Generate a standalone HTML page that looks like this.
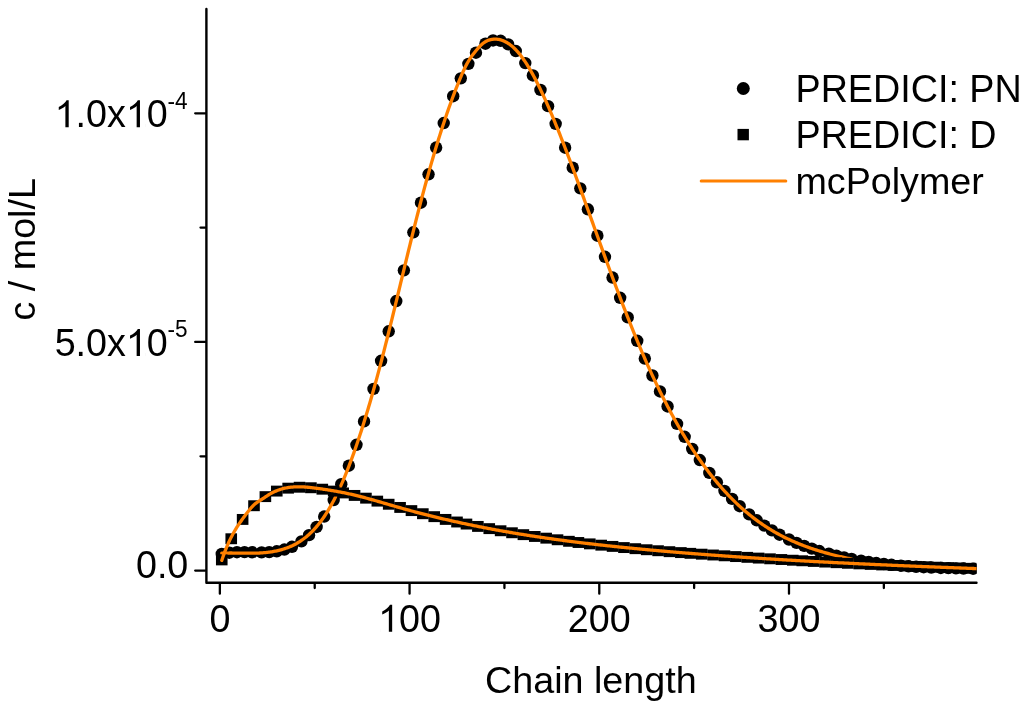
<!DOCTYPE html>
<html><head><meta charset="utf-8"><title>chart</title>
<style>html,body{margin:0;padding:0;background:#fff;overflow:hidden}svg{display:block;will-change:transform}text{font-family:"Liberation Sans",sans-serif}</style>
</head><body>
<svg width="1024" height="707" viewBox="0 0 1024 707">
<rect x="0" y="0" width="1024" height="707" fill="#fff"/>
<defs><clipPath id="c"><rect x="206" y="0" width="770.5" height="583"/></clipPath></defs>
<g clip-path="url(#c)">
<circle cx="221.76" cy="553.91" r="6.2"/>
<circle cx="229.35" cy="552.69" r="6.2"/>
<circle cx="236.93" cy="552.18" r="6.2"/>
<circle cx="244.52" cy="552.13" r="6.2"/>
<circle cx="252.11" cy="552.29" r="6.2"/>
<circle cx="261.60" cy="552.40" r="6.2"/>
<circle cx="269.18" cy="552.13" r="6.2"/>
<circle cx="276.77" cy="551.27" r="6.2"/>
<circle cx="284.36" cy="549.56" r="6.2"/>
<circle cx="291.95" cy="546.77" r="6.2"/>
<circle cx="301.44" cy="541.34" r="6.2"/>
<circle cx="309.02" cy="535.13" r="6.2"/>
<circle cx="316.61" cy="526.95" r="6.2"/>
<circle cx="324.20" cy="516.55" r="6.2"/>
<circle cx="333.69" cy="500.10" r="6.2"/>
<circle cx="341.27" cy="484.14" r="6.2"/>
<circle cx="348.86" cy="465.69" r="6.2"/>
<circle cx="356.45" cy="444.78" r="6.2"/>
<circle cx="364.04" cy="421.40" r="6.2"/>
<circle cx="373.53" cy="388.88" r="6.2"/>
<circle cx="381.11" cy="360.77" r="6.2"/>
<circle cx="388.70" cy="331.31" r="6.2"/>
<circle cx="396.29" cy="301.02" r="6.2"/>
<circle cx="403.88" cy="270.37" r="6.2"/>
<circle cx="413.36" cy="232.32" r="6.2"/>
<circle cx="420.95" cy="202.68" r="6.2"/>
<circle cx="428.54" cy="174.26" r="6.2"/>
<circle cx="436.13" cy="147.56" r="6.2"/>
<circle cx="443.72" cy="123.05" r="6.2"/>
<circle cx="453.20" cy="96.23" r="6.2"/>
<circle cx="460.79" cy="78.36" r="6.2"/>
<circle cx="468.38" cy="63.83" r="6.2"/>
<circle cx="475.97" cy="52.72" r="6.2"/>
<circle cx="485.45" cy="43.71" r="6.2"/>
<circle cx="493.04" cy="40.48" r="6.2"/>
<circle cx="500.63" cy="40.79" r="6.2"/>
<circle cx="508.22" cy="44.40" r="6.2"/>
<circle cx="515.81" cy="51.03" r="6.2"/>
<circle cx="525.29" cy="63.12" r="6.2"/>
<circle cx="532.88" cy="75.48" r="6.2"/>
<circle cx="540.47" cy="89.92" r="6.2"/>
<circle cx="548.06" cy="106.14" r="6.2"/>
<circle cx="555.65" cy="123.86" r="6.2"/>
<circle cx="565.13" cy="147.69" r="6.2"/>
<circle cx="572.72" cy="167.73" r="6.2"/>
<circle cx="580.31" cy="188.34" r="6.2"/>
<circle cx="587.90" cy="209.32" r="6.2"/>
<circle cx="597.38" cy="235.74" r="6.2"/>
<circle cx="604.97" cy="256.80" r="6.2"/>
<circle cx="612.56" cy="277.56" r="6.2"/>
<circle cx="620.15" cy="297.82" r="6.2"/>
<circle cx="627.74" cy="317.41" r="6.2"/>
<circle cx="637.22" cy="340.80" r="6.2"/>
<circle cx="644.81" cy="358.59" r="6.2"/>
<circle cx="652.40" cy="375.50" r="6.2"/>
<circle cx="659.99" cy="391.47" r="6.2"/>
<circle cx="667.58" cy="406.48" r="6.2"/>
<circle cx="677.06" cy="423.91" r="6.2"/>
<circle cx="684.65" cy="436.82" r="6.2"/>
<circle cx="692.24" cy="448.86" r="6.2"/>
<circle cx="699.83" cy="460.05" r="6.2"/>
<circle cx="709.31" cy="472.90" r="6.2"/>
<circle cx="716.90" cy="482.30" r="6.2"/>
<circle cx="724.49" cy="490.96" r="6.2"/>
<circle cx="732.08" cy="498.92" r="6.2"/>
<circle cx="739.67" cy="506.19" r="6.2"/>
<circle cx="749.15" cy="514.39" r="6.2"/>
<circle cx="756.74" cy="520.27" r="6.2"/>
<circle cx="764.33" cy="525.59" r="6.2"/>
<circle cx="771.92" cy="530.39" r="6.2"/>
<circle cx="779.50" cy="534.71" r="6.2"/>
<circle cx="788.99" cy="539.50" r="6.2"/>
<circle cx="796.58" cy="542.88" r="6.2"/>
<circle cx="804.17" cy="545.90" r="6.2"/>
<circle cx="811.76" cy="548.60" r="6.2"/>
<circle cx="819.34" cy="551.03" r="6.2"/>
<circle cx="828.83" cy="553.73" r="6.2"/>
<circle cx="836.42" cy="555.66" r="6.2"/>
<circle cx="844.01" cy="557.41" r="6.2"/>
<circle cx="851.59" cy="558.99" r="6.2"/>
<circle cx="861.08" cy="560.73" r="6.2"/>
<circle cx="868.67" cy="561.95" r="6.2"/>
<circle cx="876.26" cy="563.04" r="6.2"/>
<circle cx="883.85" cy="563.99" r="6.2"/>
<circle cx="891.43" cy="564.82" r="6.2"/>
<circle cx="900.92" cy="565.70" r="6.2"/>
<circle cx="908.51" cy="566.29" r="6.2"/>
<circle cx="916.10" cy="566.79" r="6.2"/>
<circle cx="923.68" cy="567.21" r="6.2"/>
<circle cx="931.27" cy="567.57" r="6.2"/>
<circle cx="940.76" cy="567.93" r="6.2"/>
<circle cx="948.35" cy="568.16" r="6.2"/>
<circle cx="955.93" cy="568.36" r="6.2"/>
<circle cx="963.52" cy="568.53" r="6.2"/>
<circle cx="973.01" cy="568.71" r="6.2"/>
<circle cx="980.60" cy="568.86" r="6.2"/>
<path d="M221.76,553.19 L222.76,553.15 L223.76,553.12 L224.76,553.09 L225.76,553.07 L226.76,553.05 L227.76,553.04 L228.76,553.03 L229.76,553.02 L230.76,553.02 L231.76,553.02 L232.76,553.03 L233.76,553.03 L234.76,553.04 L235.76,553.05 L236.76,553.07 L237.76,553.08 L238.76,553.10 L239.76,553.11 L240.76,553.13 L241.76,553.14 L242.76,553.16 L243.76,553.17 L244.76,553.18 L245.76,553.19 L246.76,553.20 L247.76,553.21 L248.76,553.21 L249.76,553.21 L250.76,553.21 L251.76,553.21 L252.76,553.20 L253.76,553.18 L254.76,553.16 L255.76,553.14 L256.76,553.11 L257.76,553.07 L258.76,553.03 L259.76,552.98 L260.76,552.93 L261.76,552.86 L262.76,552.79 L263.76,552.72 L264.76,552.63 L265.76,552.54 L266.76,552.43 L267.76,552.32 L268.76,552.20 L269.76,552.06 L270.76,551.92 L271.76,551.77 L272.76,551.60 L273.76,551.43 L274.76,551.24 L275.76,551.04 L276.76,550.83 L277.76,550.61 L278.76,550.37 L279.76,550.12 L280.76,549.85 L281.76,549.57 L282.76,549.28 L283.76,548.97 L284.76,548.65 L285.76,548.31 L286.76,547.95 L287.76,547.58 L288.76,547.19 L289.76,546.79 L290.76,546.36 L291.76,545.91 L292.76,545.45 L293.76,544.96 L294.76,544.45 L295.76,543.92 L296.76,543.37 L297.76,542.79 L298.76,542.19 L299.76,541.56 L300.76,540.91 L301.76,540.23 L302.76,539.52 L303.76,538.79 L304.76,538.03 L305.76,537.24 L306.76,536.41 L307.76,535.56 L308.76,534.68 L309.76,533.76 L310.76,532.82 L311.76,531.83 L312.76,530.82 L313.76,529.77 L314.76,528.68 L315.76,527.56 L316.76,526.40 L317.76,525.21 L318.76,523.98 L319.76,522.70 L320.76,521.39 L321.76,520.04 L322.76,518.65 L323.76,517.21 L324.76,515.73 L325.76,514.21 L326.76,512.65 L327.76,511.04 L328.76,509.39 L329.76,507.69 L330.76,505.94 L331.76,504.15 L332.76,502.31 L333.76,500.42 L334.76,498.49 L335.76,496.50 L336.76,494.47 L337.76,492.40 L338.76,490.27 L339.76,488.10 L340.76,485.89 L341.76,483.63 L342.76,481.32 L343.76,478.97 L344.76,476.58 L345.76,474.14 L346.76,471.66 L347.76,469.13 L348.76,466.56 L349.76,463.95 L350.76,461.30 L351.76,458.60 L352.76,455.86 L353.76,453.08 L354.76,450.26 L355.76,447.39 L356.76,444.49 L357.76,441.55 L358.76,438.56 L359.76,435.54 L360.76,432.47 L361.76,429.37 L362.76,426.23 L363.76,423.05 L364.76,419.83 L365.76,416.57 L366.76,413.28 L367.76,409.94 L368.76,406.57 L369.76,403.17 L370.76,399.73 L371.76,396.25 L372.76,392.73 L373.76,389.18 L374.76,385.60 L375.76,381.98 L376.76,378.32 L377.76,374.63 L378.76,370.91 L379.76,367.15 L380.76,363.36 L381.76,359.54 L382.76,355.68 L383.76,351.80 L384.76,347.88 L385.76,343.94 L386.76,339.98 L387.76,335.98 L388.76,331.97 L389.76,327.94 L390.76,323.89 L391.76,319.82 L392.76,315.74 L393.76,311.64 L394.76,307.53 L395.76,303.41 L396.76,299.28 L397.76,295.14 L398.76,291.00 L399.76,286.86 L400.76,282.71 L401.76,278.56 L402.76,274.42 L403.76,270.27 L404.76,266.13 L405.76,262.00 L406.76,257.88 L407.76,253.76 L408.76,249.66 L409.76,245.57 L410.76,241.49 L411.76,237.43 L412.76,233.39 L413.76,229.37 L414.76,225.36 L415.76,221.39 L416.76,217.43 L417.76,213.50 L418.76,209.60 L419.76,205.73 L420.76,201.90 L421.76,198.09 L422.76,194.32 L423.76,190.58 L424.76,186.87 L425.76,183.20 L426.76,179.56 L427.76,175.95 L428.76,172.38 L429.76,168.84 L430.76,165.34 L431.76,161.87 L432.76,158.43 L433.76,155.03 L434.76,151.67 L435.76,148.34 L436.76,145.04 L437.76,141.78 L438.76,138.56 L439.76,135.37 L440.76,132.22 L441.76,129.10 L442.76,126.02 L443.76,122.97 L444.76,119.96 L445.76,116.99 L446.76,114.05 L447.76,111.16 L448.76,108.30 L449.76,105.47 L450.76,102.69 L451.76,99.94 L452.76,97.24 L453.76,94.57 L454.76,91.95 L455.76,89.36 L456.76,86.82 L457.76,84.31 L458.76,81.85 L459.76,79.43 L460.76,77.05 L461.76,74.72 L462.76,72.44 L463.76,70.23 L464.76,68.10 L465.76,66.06 L466.76,64.13 L467.76,62.32 L468.76,60.63 L469.76,59.04 L470.76,57.55 L471.76,56.13 L472.76,54.78 L473.76,53.48 L474.76,52.23 L475.76,51.01 L476.76,49.81 L477.76,48.63 L478.76,47.47 L479.76,46.37 L480.76,45.35 L481.76,44.41 L482.76,43.56 L483.76,42.80 L484.76,42.12 L485.76,41.52 L486.76,40.99 L487.76,40.54 L488.76,40.16 L489.76,39.84 L490.76,39.59 L491.76,39.40 L492.76,39.26 L493.76,39.17 L494.76,39.14 L495.76,39.15 L496.76,39.21 L497.76,39.32 L498.76,39.48 L499.76,39.68 L500.76,39.94 L501.76,40.24 L502.76,40.59 L503.76,40.99 L504.76,41.45 L505.76,41.95 L506.76,42.50 L507.76,43.10 L508.76,43.75 L509.76,44.45 L510.76,45.20 L511.76,46.01 L512.76,46.86 L513.76,47.77 L514.76,48.73 L515.76,49.74 L516.76,50.80 L517.76,51.92 L518.76,53.09 L519.76,54.31 L520.76,55.58 L521.76,56.90 L522.76,58.27 L523.76,59.68 L524.76,61.14 L525.76,62.65 L526.76,64.21 L527.76,65.80 L528.76,67.44 L529.76,69.12 L530.76,70.84 L531.76,72.61 L532.76,74.41 L533.76,76.24 L534.76,78.12 L535.76,80.03 L536.76,81.98 L537.76,83.96 L538.76,85.97 L539.76,88.01 L540.76,90.09 L541.76,92.19 L542.76,94.33 L543.76,96.49 L544.76,98.68 L545.76,100.90 L546.76,103.14 L547.76,105.40 L548.76,107.69 L549.76,110.00 L550.76,112.33 L551.76,114.69 L552.76,117.06 L553.76,119.45 L554.76,121.87 L555.76,124.30 L556.76,126.76 L557.76,129.23 L558.76,131.72 L559.76,134.22 L560.76,136.75 L561.76,139.29 L562.76,141.84 L563.76,144.41 L564.76,147.00 L565.76,149.60 L566.76,152.21 L567.76,154.83 L568.76,157.47 L569.76,160.12 L570.76,162.78 L571.76,165.45 L572.76,168.14 L573.76,170.83 L574.76,173.53 L575.76,176.24 L576.76,178.96 L577.76,181.69 L578.76,184.42 L579.76,187.16 L580.76,189.91 L581.76,192.66 L582.76,195.42 L583.76,198.18 L584.76,200.95 L585.76,203.72 L586.76,206.49 L587.76,209.27 L588.76,212.04 L589.76,214.82 L590.76,217.60 L591.76,220.38 L592.76,223.16 L593.76,225.94 L594.76,228.72 L595.76,231.49 L596.76,234.27 L597.76,237.04 L598.76,239.81 L599.76,242.57 L600.76,245.33 L601.76,248.09 L602.76,250.84 L603.76,253.59 L604.76,256.33 L605.76,259.07 L606.76,261.80 L607.76,264.53 L608.76,267.25 L609.76,269.96 L610.76,272.67 L611.76,275.37 L612.76,278.06 L613.76,280.75 L614.76,283.42 L615.76,286.09 L616.76,288.75 L617.76,291.40 L618.76,294.04 L619.76,296.67 L620.76,299.30 L621.76,301.91 L622.76,304.51 L623.76,307.10 L624.76,309.68 L625.76,312.25 L626.76,314.81 L627.76,317.35 L628.76,319.89 L629.76,322.41 L630.76,324.91 L631.76,327.41 L632.76,329.89 L633.76,332.36 L634.76,334.81 L635.76,337.25 L636.76,339.68 L637.76,342.09 L638.76,344.48 L639.76,346.86 L640.76,349.22 L641.76,351.57 L642.76,353.90 L643.76,356.22 L644.76,358.51 L645.76,360.79 L646.76,363.06 L647.76,365.30 L648.76,367.53 L649.76,369.74 L650.76,371.94 L651.76,374.11 L652.76,376.27 L653.76,378.42 L654.76,380.54 L655.76,382.65 L656.76,384.75 L657.76,386.83 L658.76,388.89 L659.76,390.93 L660.76,392.96 L661.76,394.97 L662.76,396.96 L663.76,398.94 L664.76,400.91 L665.76,402.85 L666.76,404.78 L667.76,406.70 L668.76,408.60 L669.76,410.48 L670.76,412.35 L671.76,414.20 L672.76,416.03 L673.76,417.85 L674.76,419.66 L675.76,421.45 L676.76,423.22 L677.76,424.98 L678.76,426.72 L679.76,428.45 L680.76,430.16 L681.76,431.86 L682.76,433.54 L683.76,435.21 L684.76,436.86 L685.76,438.49 L686.76,440.12 L687.76,441.72 L688.76,443.32 L689.76,444.89 L690.76,446.46 L691.76,448.01 L692.76,449.54 L693.76,451.06 L694.76,452.56 L695.76,454.06 L696.76,455.53 L697.76,457.00 L698.76,458.44 L699.76,459.88 L700.76,461.30 L701.76,462.70 L702.76,464.10 L703.76,465.48 L704.76,466.84 L705.76,468.19 L706.76,469.53 L707.76,470.85 L708.76,472.16 L709.76,473.46 L710.76,474.74 L711.76,476.01 L712.76,477.27 L713.76,478.51 L714.76,479.74 L715.76,480.96 L716.76,482.16 L717.76,483.35 L718.76,484.53 L719.76,485.69 L720.76,486.85 L721.76,487.99 L722.76,489.11 L723.76,490.23 L724.76,491.33 L725.76,492.42 L726.76,493.49 L727.76,494.56 L728.76,495.61 L729.76,496.65 L730.76,497.67 L731.76,498.69 L732.76,499.69 L733.76,500.68 L734.76,501.66 L735.76,502.62 L736.76,503.58 L737.76,504.52 L738.76,505.45 L739.76,506.37 L740.76,507.28 L741.76,508.18 L742.76,509.06 L743.76,509.94 L744.76,510.80 L745.76,511.66 L746.76,512.50 L747.76,513.33 L748.76,514.15 L749.76,514.96 L750.76,515.76 L751.76,516.55 L752.76,517.33 L753.76,518.10 L754.76,518.86 L755.76,519.61 L756.76,520.34 L757.76,521.07 L758.76,521.79 L759.76,522.50 L760.76,523.20 L761.76,523.90 L762.76,524.58 L763.76,525.25 L764.76,525.91 L765.76,526.57 L766.76,527.21 L767.76,527.85 L768.76,528.48 L769.76,529.10 L770.76,529.71 L771.76,530.31 L772.76,530.90 L773.76,531.49 L774.76,532.06 L775.76,532.63 L776.76,533.20 L777.76,533.75 L778.76,534.29 L779.76,534.83 L780.76,535.36 L781.76,535.88 L782.76,536.40 L783.76,536.91 L784.76,537.41 L785.76,537.90 L786.76,538.39 L787.76,538.87 L788.76,539.34 L789.76,539.81 L790.76,540.26 L791.76,540.72 L792.76,541.16 L793.76,541.60 L794.76,542.04 L795.76,542.46 L796.76,542.88 L797.76,543.30 L798.76,543.71 L799.76,544.11 L800.76,544.51 L801.76,544.90 L802.76,545.29 L803.76,545.67 L804.76,546.04 L805.76,546.42 L806.76,546.78 L807.76,547.14 L808.76,547.50 L809.76,547.85 L810.76,548.19 L811.76,548.53 L812.76,548.87 L813.76,549.20 L814.76,549.53 L815.76,549.85 L816.76,550.17 L817.76,550.48 L818.76,550.79 L819.76,551.10 L820.76,551.40 L821.76,551.70 L822.76,552.00 L823.76,552.29 L824.76,552.58 L825.76,552.86 L826.76,553.14 L827.76,553.42 L828.76,553.70 L829.76,553.97 L830.76,554.23 L831.76,554.50 L832.76,554.75 L833.76,555.01 L834.76,555.26 L835.76,555.51 L836.76,555.76 L837.76,556.00 L838.76,556.24 L839.76,556.48 L840.76,556.71 L841.76,556.94 L842.76,557.17 L843.76,557.39 L844.76,557.61 L845.76,557.83 L846.76,558.04 L847.76,558.25 L848.76,558.46 L849.76,558.67 L850.76,558.87 L851.76,559.07 L853,560.5 L854.00,563.52 L856.00,563.61 L858.00,563.71 L860.00,563.80 L862.00,563.90 L864.00,563.99 L866.00,564.08 L868.00,564.17 L870.00,564.26 L872.00,564.36 L874.00,564.45 L876.00,564.54 L878.00,564.63 L880.00,564.72 L882.00,564.80 L884.00,564.89 L886.00,564.98 L888.00,565.07 L890.00,565.16 L892.00,565.24 L894.00,565.33 L896.00,565.41 L898.00,565.50 L900.00,565.59 L902.00,565.67 L904.00,565.75 L906.00,565.84 L908.00,565.92 L910.00,566.01 L912.00,566.09 L914.00,566.17 L916.00,566.25 L918.00,566.34 L920.00,566.42 L922.00,566.50 L924.00,566.58 L926.00,566.66 L928.00,566.74 L930.00,566.82 L932.00,566.90 L934.00,566.98 L936.00,567.06 L938.00,567.14 L940.00,567.22 L942.00,567.30 L944.00,567.38 L946.00,567.45 L948.00,567.53 L950.00,567.61 L952.00,567.69 L954.00,567.76 L956.00,567.84 L958.00,567.92 L960.00,567.99 L962.00,568.07 L964.00,568.15 L966.00,568.22 L968.00,568.30 L970.00,568.38 L972.00,568.45 L974.00,568.53 L976.00,568.60" fill="none" stroke="#ff8000" stroke-width="3.3" stroke-linejoin="round" stroke-linecap="round"/>
<rect x="215.96" y="554.46" width="11.6" height="10.9"/>
<rect x="225.44" y="533.31" width="11.6" height="10.9"/>
<rect x="236.83" y="513.98" width="11.6" height="10.9"/>
<rect x="248.21" y="500.28" width="11.6" height="10.9"/>
<rect x="259.59" y="491.18" width="11.6" height="10.9"/>
<rect x="270.97" y="485.64" width="11.6" height="10.9"/>
<rect x="282.36" y="482.71" width="11.6" height="10.9"/>
<rect x="293.74" y="481.78" width="11.6" height="10.9"/>
<rect x="305.12" y="482.30" width="11.6" height="10.9"/>
<rect x="316.50" y="483.74" width="11.6" height="10.9"/>
<rect x="327.89" y="485.64" width="11.6" height="10.9"/>
<rect x="337.37" y="487.49" width="11.6" height="10.9"/>
<rect x="348.75" y="489.97" width="11.6" height="10.9"/>
<rect x="360.14" y="492.71" width="11.6" height="10.9"/>
<rect x="371.52" y="495.67" width="11.6" height="10.9"/>
<rect x="382.90" y="498.79" width="11.6" height="10.9"/>
<rect x="394.28" y="501.98" width="11.6" height="10.9"/>
<rect x="405.67" y="505.16" width="11.6" height="10.9"/>
<rect x="417.05" y="508.27" width="11.6" height="10.9"/>
<rect x="428.43" y="511.21" width="11.6" height="10.9"/>
<rect x="439.81" y="513.96" width="11.6" height="10.9"/>
<rect x="451.20" y="516.55" width="11.6" height="10.9"/>
<rect x="460.68" y="518.61" width="11.6" height="10.9"/>
<rect x="472.07" y="520.96" width="11.6" height="10.9"/>
<rect x="483.45" y="523.19" width="11.6" height="10.9"/>
<rect x="494.83" y="525.31" width="11.6" height="10.9"/>
<rect x="506.21" y="527.31" width="11.6" height="10.9"/>
<rect x="517.60" y="529.21" width="11.6" height="10.9"/>
<rect x="528.98" y="531.01" width="11.6" height="10.9"/>
<rect x="540.36" y="532.71" width="11.6" height="10.9"/>
<rect x="551.74" y="534.32" width="11.6" height="10.9"/>
<rect x="563.13" y="535.84" width="11.6" height="10.9"/>
<rect x="572.61" y="537.05" width="11.6" height="10.9"/>
<rect x="583.99" y="538.42" width="11.6" height="10.9"/>
<rect x="595.38" y="539.72" width="11.6" height="10.9"/>
<rect x="606.76" y="540.95" width="11.6" height="10.9"/>
<rect x="618.14" y="542.12" width="11.6" height="10.9"/>
<rect x="629.52" y="543.23" width="11.6" height="10.9"/>
<rect x="640.91" y="544.28" width="11.6" height="10.9"/>
<rect x="652.29" y="545.28" width="11.6" height="10.9"/>
<rect x="663.67" y="546.23" width="11.6" height="10.9"/>
<rect x="675.06" y="547.15" width="11.6" height="10.9"/>
<rect x="684.54" y="547.88" width="11.6" height="10.9"/>
<rect x="695.92" y="548.73" width="11.6" height="10.9"/>
<rect x="707.31" y="549.55" width="11.6" height="10.9"/>
<rect x="718.69" y="550.35" width="11.6" height="10.9"/>
<rect x="730.07" y="551.13" width="11.6" height="10.9"/>
<rect x="741.45" y="551.89" width="11.6" height="10.9"/>
<rect x="752.84" y="552.64" width="11.6" height="10.9"/>
<rect x="764.22" y="553.36" width="11.6" height="10.9"/>
<rect x="775.60" y="554.07" width="11.6" height="10.9"/>
<rect x="786.98" y="554.77" width="11.6" height="10.9"/>
<rect x="796.47" y="555.33" width="11.6" height="10.9"/>
<rect x="807.85" y="555.98" width="11.6" height="10.9"/>
<rect x="819.23" y="556.62" width="11.6" height="10.9"/>
<rect x="830.62" y="557.24" width="11.6" height="10.9"/>
<rect x="842.00" y="557.83" width="11.6" height="10.9"/>
<rect x="853.38" y="558.41" width="11.6" height="10.9"/>
<rect x="864.77" y="558.96" width="11.6" height="10.9"/>
<rect x="876.15" y="559.49" width="11.6" height="10.9"/>
<rect x="887.53" y="560.00" width="11.6" height="10.9"/>
<rect x="898.91" y="560.49" width="11.6" height="10.9"/>
<rect x="910.30" y="560.96" width="11.6" height="10.9"/>
<rect x="919.78" y="561.33" width="11.6" height="10.9"/>
<rect x="931.16" y="561.75" width="11.6" height="10.9"/>
<rect x="942.55" y="562.14" width="11.6" height="10.9"/>
<rect x="953.93" y="562.51" width="11.6" height="10.9"/>
<rect x="965.31" y="562.86" width="11.6" height="10.9"/>
<path d="M221.76,560.42 L222.76,557.44 L223.76,554.60 L224.76,551.90 L225.76,549.32 L226.76,546.87 L227.76,544.53 L228.76,542.30 L229.76,540.17 L230.76,538.13 L231.76,536.18 L232.76,534.31 L233.76,532.50 L234.76,530.76 L235.76,529.09 L236.76,527.47 L237.76,525.90 L238.76,524.37 L239.76,522.89 L240.76,521.45 L241.76,520.04 L242.76,518.65 L243.76,517.29 L244.76,515.94 L245.76,514.61 L246.76,513.28 L247.76,511.98 L248.76,510.69 L249.76,509.45 L250.76,508.25 L251.76,507.12 L252.76,506.04 L253.76,505.05 L254.76,504.14 L255.76,503.33 L256.76,502.60 L257.76,501.92 L258.76,501.28 L259.76,500.65 L260.76,500.01 L261.76,499.35 L262.76,498.68 L263.76,498.01 L264.76,497.34 L265.76,496.67 L266.76,496.01 L267.76,495.37 L268.76,494.75 L269.76,494.15 L270.76,493.58 L271.76,493.03 L272.76,492.51 L273.76,492.02 L274.76,491.56 L275.76,491.12 L276.76,490.71 L277.76,490.32 L278.76,489.95 L279.76,489.61 L280.76,489.29 L281.76,488.99 L282.76,488.71 L283.76,488.46 L284.76,488.22 L285.76,488.01 L286.76,487.82 L287.76,487.64 L288.76,487.48 L289.76,487.34 L290.76,487.22 L291.76,487.11 L292.76,487.02 L293.76,486.95 L294.76,486.89 L295.76,486.84 L296.76,486.81 L297.76,486.80 L298.76,486.79 L299.76,486.80 L300.76,486.82 L301.76,486.85 L302.76,486.89 L303.76,486.94 L304.76,487.00 L305.76,487.07 L306.76,487.15 L307.76,487.24 L308.76,487.33 L309.76,487.44 L310.76,487.54 L311.76,487.66 L312.76,487.77 L313.76,487.90 L314.76,488.02 L315.76,488.15 L316.76,488.29 L317.76,488.42 L318.76,488.56 L319.76,488.70 L320.76,488.84 L321.76,488.99 L322.76,489.13 L323.76,489.28 L324.76,489.43 L325.76,489.58 L326.76,489.73 L327.76,489.89 L328.76,490.04 L329.76,490.20 L330.76,490.36 L331.76,490.53 L332.76,490.70 L333.76,490.87 L334.76,491.04 L335.76,491.21 L336.76,491.39 L337.76,491.57 L338.76,491.76 L339.76,491.95 L340.76,492.14 L341.76,492.33 L342.76,492.53 L343.76,492.73 L344.76,492.93 L345.76,493.14 L346.76,493.35 L347.76,493.56 L348.76,493.78 L349.76,494.00 L350.76,494.23 L351.76,494.46 L352.76,494.69 L353.76,494.93 L354.76,495.17 L355.76,495.41 L356.76,495.65 L357.76,495.90 L358.76,496.15 L359.76,496.41 L360.76,496.66 L361.76,496.92 L362.76,497.18 L363.76,497.45 L364.76,497.71 L365.76,497.98 L366.76,498.25 L367.76,498.52 L368.76,498.79 L369.76,499.07 L370.76,499.35 L371.76,499.63 L372.76,499.91 L373.76,500.19 L374.76,500.47 L375.76,500.75 L376.76,501.04 L377.76,501.32 L378.76,501.61 L379.76,501.90 L380.76,502.19 L381.76,502.48 L382.76,502.77 L383.76,503.06 L384.76,503.35 L385.76,503.64 L386.76,503.93 L387.76,504.22 L388.76,504.51 L389.76,504.80 L390.76,505.09 L391.76,505.38 L392.76,505.67 L393.76,505.96 L394.76,506.25 L395.76,506.54 L396.76,506.82 L397.76,507.11 L398.76,507.39 L399.76,507.68 L400.76,507.96 L401.76,508.24 L402.76,508.52 L403.76,508.80 L404.76,509.08 L405.76,509.36 L406.76,509.63 L407.76,509.91 L408.76,510.18 L409.76,510.45 L410.76,510.72 L411.76,510.99 L412.76,511.26 L413.76,511.53 L414.76,511.80 L415.76,512.06 L416.76,512.33 L417.76,512.59 L418.76,512.85 L419.76,513.11 L420.76,513.37 L421.76,513.63 L422.76,513.88 L423.76,514.14 L424.76,514.40 L425.76,514.65 L426.76,514.90 L427.76,515.15 L428.76,515.40 L429.76,515.65 L430.76,515.90 L431.76,516.15 L432.76,516.40 L433.76,516.64 L434.76,516.88 L435.76,517.13 L436.76,517.37 L437.76,517.61 L438.76,517.85 L439.76,518.09 L440.76,518.32 L441.76,518.56 L442.76,518.80 L443.76,519.03 L444.76,519.26 L445.76,519.50 L446.76,519.73 L447.76,519.96 L448.76,520.19 L449.76,520.41 L450.76,520.64 L451.76,520.87 L452.76,521.09 L453.76,521.32 L454.76,521.54 L455.76,521.76 L456.76,521.98 L457.76,522.20 L458.76,522.42 L459.76,522.64 L460.76,522.85 L461.76,523.07 L462.76,523.28 L463.76,523.50 L464.76,523.71 L465.76,523.92 L466.76,524.13 L467.76,524.34 L468.76,524.55 L469.76,524.76 L470.76,524.97 L471.76,525.17 L472.76,525.38 L473.76,525.58 L474.76,525.79 L475.76,525.99 L476.76,526.19 L477.76,526.39 L478.76,526.59 L479.76,526.79 L480.76,526.99 L481.76,527.18 L482.76,527.38 L483.76,527.57 L484.76,527.77 L485.76,527.96 L486.76,528.15 L487.76,528.34 L488.76,528.53 L489.76,528.72 L490.76,528.91 L491.76,529.10 L492.76,529.29 L493.76,529.47 L494.76,529.66 L495.76,529.84 L496.76,530.02 L497.76,530.21 L498.76,530.39 L499.76,530.57 L500.76,530.75 L501.76,530.93 L502.76,531.10 L503.76,531.28 L504.76,531.46 L505.76,531.63 L506.76,531.81 L507.76,531.98 L508.76,532.16 L509.76,532.33 L510.76,532.50 L511.76,532.67 L512.76,532.84 L513.76,533.01 L514.76,533.18 L515.76,533.34 L516.76,533.51 L517.76,533.68 L518.76,533.84 L519.76,534.01 L520.76,534.17 L521.76,534.33 L522.76,534.49 L523.76,534.65 L524.76,534.81 L525.76,534.97 L526.76,535.13 L527.76,535.29 L528.76,535.45 L529.76,535.60 L530.76,535.76 L531.76,535.91 L532.76,536.07 L533.76,536.22 L534.76,536.38 L535.76,536.53 L536.76,536.68 L537.76,536.83 L538.76,536.98 L539.76,537.13 L540.76,537.28 L541.76,537.42 L542.76,537.57 L543.76,537.72 L544.76,537.86 L545.76,538.01 L546.76,538.15 L547.76,538.30 L548.76,538.44 L549.76,538.58 L550.76,538.72 L551.76,538.86 L552.76,539.00 L553.76,539.14 L554.76,539.28 L555.76,539.42 L556.76,539.56 L557.76,539.69 L558.76,539.83 L559.76,539.96 L560.76,540.10 L561.76,540.23 L562.76,540.37 L563.76,540.50 L564.76,540.63 L565.76,540.76 L566.76,540.89 L567.76,541.02 L568.76,541.15 L569.76,541.28 L570.76,541.41 L571.76,541.54 L572.76,541.67 L573.76,541.79 L574.76,541.92 L575.76,542.05 L576.76,542.17 L577.76,542.29 L578.76,542.42 L579.76,542.54 L580.76,542.66 L581.76,542.79 L582.76,542.91 L583.76,543.03 L584.76,543.15 L585.76,543.27 L586.76,543.39 L587.76,543.51 L588.76,543.62 L589.76,543.74 L590.76,543.86 L591.76,543.98 L592.76,544.09 L593.76,544.21 L594.76,544.32 L595.76,544.44 L596.76,544.55 L597.76,544.66 L598.76,544.78 L599.76,544.89 L600.76,545.00 L601.76,545.11 L602.76,545.22 L603.76,545.33 L604.76,545.44 L605.76,545.55 L606.76,545.66 L607.76,545.77 L608.76,545.88 L609.76,545.98 L610.76,546.09 L611.76,546.20 L612.76,546.30 L613.76,546.41 L614.76,546.51 L615.76,546.62 L616.76,546.72 L617.76,546.83 L618.76,546.93 L619.76,547.03 L620.76,547.14 L621.76,547.24 L622.76,547.34 L623.76,547.44 L624.76,547.54 L625.76,547.64 L626.76,547.74 L627.76,547.84 L628.76,547.94 L629.76,548.04 L630.76,548.14 L631.76,548.23 L632.76,548.33 L633.76,548.43 L634.76,548.53 L635.76,548.62 L636.76,548.72 L637.76,548.81 L638.76,548.91 L639.76,549.00 L640.76,549.10 L641.76,549.19 L642.76,549.29 L643.76,549.38 L644.76,549.47 L645.76,549.56 L646.76,549.66 L647.76,549.75 L648.76,549.84 L649.76,549.93 L650.76,550.02 L651.76,550.11 L652.76,550.20 L653.76,550.29 L654.76,550.38 L655.76,550.47 L656.76,550.56 L657.76,550.65 L658.76,550.74 L659.76,550.83 L660.76,550.92 L661.76,551.00 L662.76,551.09 L663.76,551.18 L664.76,551.26 L665.76,551.35 L666.76,551.44 L667.76,551.52 L668.76,551.61 L669.76,551.69 L670.76,551.78 L671.76,551.86 L672.76,551.95 L673.76,552.03 L674.76,552.12 L675.76,552.20 L676.76,552.28 L677.76,552.37 L678.76,552.45 L679.76,552.53 L680.76,552.61 L681.76,552.70 L682.76,552.78 L683.76,552.86 L684.76,552.94 L685.76,553.02 L686.76,553.10 L687.76,553.18 L688.76,553.26 L689.76,553.34 L690.76,553.42 L691.76,553.50 L692.76,553.58 L693.76,553.66 L694.76,553.74 L695.76,553.82 L696.76,553.89 L697.76,553.97 L698.76,554.05 L699.76,554.13 L700.76,554.20 L701.76,554.28 L702.76,554.36 L703.76,554.43 L704.76,554.51 L705.76,554.59 L706.76,554.66 L707.76,554.74 L708.76,554.81 L709.76,554.89 L710.76,554.96 L711.76,555.04 L712.76,555.11 L713.76,555.18 L714.76,555.26 L715.76,555.33 L716.76,555.40 L717.76,555.48 L718.76,555.55 L719.76,555.62 L720.76,555.70 L721.76,555.77 L722.76,555.84 L723.76,555.91 L724.76,555.98 L725.76,556.05 L726.76,556.12 L727.76,556.19 L728.76,556.26 L729.76,556.33 L730.76,556.40 L731.76,556.47 L732.76,556.54 L733.76,556.61 L734.76,556.68 L735.76,556.75 L736.76,556.82 L737.76,556.89 L738.76,556.96 L739.76,557.02 L740.76,557.09 L741.76,557.16 L742.76,557.23 L743.76,557.29 L744.76,557.36 L745.76,557.43 L746.76,557.49 L747.76,557.56 L748.76,557.62 L749.76,557.69 L750.76,557.76 L751.76,557.82 L752.76,557.89 L753.76,557.95 L754.76,558.02 L755.76,558.08 L756.76,558.14 L757.76,558.21 L758.76,558.27 L759.76,558.34 L760.76,558.40 L761.76,558.46 L762.76,558.53 L763.76,558.59 L764.76,558.65 L765.76,558.71 L766.76,558.78 L767.76,558.84 L768.76,558.90 L769.76,558.96 L770.76,559.02 L771.76,559.08 L772.76,559.14 L773.76,559.20 L774.76,559.27 L775.76,559.33 L776.76,559.39 L777.76,559.45 L778.76,559.51 L779.76,559.57 L780.76,559.63 L781.76,559.68 L782.76,559.74 L783.76,559.80 L784.76,559.86 L785.76,559.92 L786.76,559.98 L787.76,560.04 L788.76,560.09 L789.76,560.15 L790.76,560.21 L791.76,560.27 L792.76,560.32 L793.76,560.38 L794.76,560.44 L795.76,560.49 L796.76,560.55 L797.76,560.61 L798.76,560.66 L799.76,560.72 L800.76,560.78 L801.76,560.83 L802.76,560.89 L803.76,560.94 L804.76,561.00 L805.76,561.05 L806.76,561.11 L807.76,561.16 L808.76,561.22 L809.76,561.27 L810.76,561.32 L811.76,561.38 L812.76,561.43 L813.76,561.49 L814.76,561.54 L815.76,561.59 L816.76,561.65 L817.76,561.70 L818.76,561.75 L819.76,561.80 L820.76,561.86 L821.76,561.91 L822.76,561.96 L823.76,562.01 L824.76,562.07 L825.76,562.12 L826.76,562.17 L827.76,562.22 L828.76,562.27 L829.76,562.32 L830.76,562.37 L831.76,562.42 L832.76,562.48 L833.76,562.53 L834.76,562.58 L835.76,562.63 L836.76,562.68 L837.76,562.73 L838.76,562.78 L839.76,562.83 L840.76,562.88 L841.76,562.92 L842.76,562.97 L843.76,563.02 L844.76,563.07 L845.76,563.12 L846.76,563.17 L847.76,563.22 L848.76,563.27 L849.76,563.32 L850.76,563.36 L851.76,563.41 L852.76,563.46 L853.76,563.51 L854.76,563.55 L855.76,563.60 L856.76,563.65 L857.76,563.70 L858.76,563.74 L859.76,563.79 L860.76,563.84 L861.76,563.88 L862.76,563.93 L863.76,563.98 L864.76,564.02 L865.76,564.07 L866.76,564.12 L867.76,564.16 L868.76,564.21 L869.76,564.25 L870.76,564.30 L871.76,564.34 L872.76,564.39 L873.76,564.44 L874.76,564.48 L875.76,564.53 L876.76,564.57 L877.76,564.62 L878.76,564.66 L879.76,564.71 L880.76,564.75 L881.76,564.79 L882.76,564.84 L883.76,564.88 L884.76,564.93 L885.76,564.97 L886.76,565.01 L887.76,565.06 L888.76,565.10 L889.76,565.15 L890.76,565.19 L891.76,565.23 L892.76,565.28 L893.76,565.32 L894.76,565.36 L895.76,565.40 L896.76,565.45 L897.76,565.49 L898.76,565.53 L899.76,565.58 L900.76,565.62 L901.76,565.66 L902.76,565.70 L903.76,565.74 L904.76,565.79 L905.76,565.83 L906.76,565.87 L907.76,565.91 L908.76,565.95 L909.76,566.00 L910.76,566.04 L911.76,566.08 L912.76,566.12 L913.76,566.16 L914.76,566.20 L915.76,566.24 L916.76,566.29 L917.76,566.33 L918.76,566.37 L919.76,566.41 L920.76,566.45 L921.76,566.49 L922.76,566.53 L923.76,566.57 L924.76,566.61 L925.76,566.65 L926.76,566.69 L927.76,566.73 L928.76,566.77 L929.76,566.81 L930.76,566.85 L931.76,566.89 L932.76,566.93 L933.76,566.97 L934.76,567.01 L935.76,567.05 L936.76,567.09 L937.76,567.13 L938.76,567.17 L939.76,567.21 L940.76,567.25 L941.76,567.29 L942.76,567.33 L943.76,567.37 L944.76,567.41 L945.76,567.44 L946.76,567.48 L947.76,567.52 L948.76,567.56 L949.76,567.60 L950.76,567.64 L951.76,567.68 L952.76,567.72 L953.76,567.75 L954.76,567.79 L955.76,567.83 L956.76,567.87 L957.76,567.91 L958.76,567.95 L959.76,567.99 L960.76,568.02 L961.76,568.06 L962.76,568.10 L963.76,568.14 L964.76,568.18 L965.76,568.21 L966.76,568.25 L967.76,568.29 L968.76,568.33 L969.76,568.37 L970.76,568.40 L971.76,568.44 L972.76,568.48 L973.76,568.52 L974.76,568.55 L975.76,568.59 L976.76,568.63" fill="none" stroke="#ff8000" stroke-width="3.3" stroke-linejoin="round" stroke-linecap="round"/>
</g>
<path d="M206.4,9.0 L206.4,582.7 L976.5,582.7" fill="none" stroke="#000" stroke-width="2.4" stroke-linecap="round" stroke-linejoin="round"/>
<path d="M195.20000000000002,570.60 L205.4,570.60 M195.20000000000002,341.95 L205.4,341.95 M195.20000000000002,113.30 L205.4,113.30 M200.5,456.28 L205.4,456.28 M200.5,227.62 L205.4,227.62 M219.86,583.7 L219.86,593.7 M409.57,583.7 L409.57,593.7 M599.28,583.7 L599.28,593.7 M788.99,583.7 L788.99,593.7 M314.72,583.7 L314.72,588.1 M504.43,583.7 L504.43,588.1 M694.13,583.7 L694.13,588.1 M883.85,583.7 L883.85,588.1" fill="none" stroke="#000" stroke-width="2.3" stroke-linecap="round"/>
<text transform="translate(209.38,631.70) scale(1,1.04)" font-family="Liberation Sans" font-size="37.7">0</text>
<text transform="translate(378.12,631.70) scale(1,1.04)" font-family="Liberation Sans" font-size="37.7">100</text>
<rect x="380.14" y="604.32" width="17.86" height="28.68" fill="#fff"/>
<path transform="translate(378.12,631.70) scale(0.018408,-0.018408)" d="M763,0 L583,0 L583,1147 C540,1106 483,1064 413,1023 C343,982 280,951 223,930 L223,1104 C324,1151 412,1209 487,1276 C562,1343 615,1409 646,1466 L763,1466 Z"/>
<text transform="translate(567.83,631.70) scale(1,1.04)" font-family="Liberation Sans" font-size="37.7">200</text>
<text transform="translate(757.54,631.70) scale(1,1.04)" font-family="Liberation Sans" font-size="37.7">300</text>
<text transform="translate(135.94,577.70) scale(1,1.04)" font-family="Liberation Sans" font-size="37.7">0.0</text>
<text transform="translate(54.66,355.90) scale(1,1.04)" font-family="Liberation Sans" font-size="37.7">5.0x10</text>
<rect x="127.94" y="328.52" width="17.86" height="28.68" fill="#fff"/>
<path transform="translate(125.92,355.90) scale(0.018408,-0.018408)" d="M763,0 L583,0 L583,1147 C540,1106 483,1064 413,1023 C343,982 280,951 223,930 L223,1104 C324,1151 412,1209 487,1276 C562,1343 615,1409 646,1466 L763,1466 Z"/>
<text transform="translate(54.66,127.20) scale(1,1.04)" font-family="Liberation Sans" font-size="37.7">1.0x10</text>
<rect x="56.68" y="99.82" width="17.86" height="28.68" fill="#fff"/>
<path transform="translate(54.66,127.20) scale(0.018408,-0.018408)" d="M763,0 L583,0 L583,1147 C540,1106 483,1064 413,1023 C343,982 280,951 223,930 L223,1104 C324,1151 412,1209 487,1276 C562,1343 615,1409 646,1466 L763,1466 Z"/>
<rect x="127.94" y="99.82" width="17.86" height="28.68" fill="#fff"/>
<path transform="translate(125.92,127.20) scale(0.018408,-0.018408)" d="M763,0 L583,0 L583,1147 C540,1106 483,1064 413,1023 C343,982 280,951 223,930 L223,1104 C324,1151 412,1209 487,1276 C562,1343 615,1409 646,1466 L763,1466 Z"/>
<text transform="translate(167.40,337.30) scale(1,1.04)" font-family="Liberation Sans" font-size="22.6">-5</text>
<text transform="translate(167.40,108.60) scale(1,1.04)" font-family="Liberation Sans" font-size="22.6">-4</text>
<text transform="translate(485.00,693.30)" font-family="Liberation Sans" font-size="37.7">Chain length</text>
<text transform="translate(35.1,320.5) rotate(-90)" font-family="Liberation Sans" font-size="37.7">c / mol/L</text>
<circle cx="743.3" cy="88.5" r="6.5"/>
<rect x="737.5" y="128.9" width="11.4" height="11.4"/>
<path d="M701.2,180.9 L785.8,180.9" stroke="#ff8000" stroke-width="3.0" stroke-linecap="round"/>
<text transform="translate(795.50,101.60) scale(1,1.04)" font-family="Liberation Sans" font-size="37.7">PREDICI: PN</text>
<text transform="translate(795.50,147.50) scale(1,1.04)" font-family="Liberation Sans" font-size="37.7">PREDICI: D</text>
<text transform="translate(795.40,194.30)" font-family="Liberation Sans" font-size="37.7">mcPolymer</text>
</svg>
</body></html>
